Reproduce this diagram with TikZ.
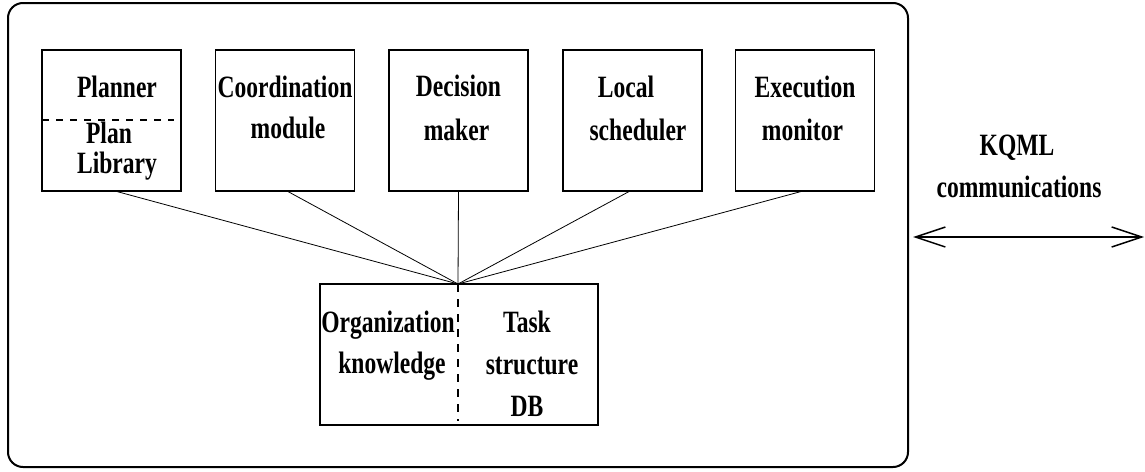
\documentclass[tikz,border=0pt]{standalone}
\usepackage{fontspec}
\newfontfamily\lblfont[FakeStretch=0.76]{Liberation Serif}
\usetikzlibrary{arrows.meta,calc}
\tikzset{
  module/.style={draw, line width=1.7pt, inner sep=0pt, outer sep=0pt,
                 minimum width=139pt, minimum height=141pt},
  lbl/.style={anchor=base, inner sep=0pt, font=\lblfont\bfseries\fontsize{31}{36}\selectfont},
  link/.style={line width=0.8pt},
  divider/.style={line width=1.6pt, dash pattern=on 7pt off 7pt},
  comm/.style={line width=1.5pt, {Straight Barb[length=30pt,width=20pt]}-{Straight Barb[length=30pt,width=20pt]}}
}
\begin{document}
\begin{tikzpicture}[x=1pt, y=-1pt]
\useasboundingbox (0,0) rectangle (1145,471);

% agent boundary
\draw[line width=2pt, rounded corners=15pt] (8,3) rectangle (908,467);

% functional modules
\node[module] (planner) at (111.5,120.5) {};
\node[module] (coord)   at (285,120.5) {};
\node[module] (decide)  at (458.5,120.5) {};
\node[module] (sched)   at (632.5,120.5) {};
\node[module] (exec)    at (805,120.5) {};

% shared knowledge base
\node[module, minimum width=278pt] (kb) at (459,354.5) {};
\coordinate (hub) at (458,284);

% internal separators
\draw[divider] (planner.west |- 0,120) -- ($(planner.east |- 0,120)+(-7,0)$);
\draw[divider, line width=1.4pt, dash pattern=on 8pt off 7pt] (hub) -- (458,421);

% module labels
\node[lbl] (tPlanner) at (117,97)  {Planner};
\node[lbl] (tPlan)    at (109,143) {Plan};
\node[lbl] (tLib)     at (117,173) {Library};
\node[lbl] (tCoord)   at (285,97)  {Coordination};
\node[lbl] (tModule)  at (288,138) {module};
\node[lbl] (tDec)     at (458.5,96) {Decision};
\node[lbl] (tMaker)   at (456.5,140) {maker};
\node[lbl] (tLocal)   at (626,97)  {Local};
\node[lbl] (tSched)   at (638,140) {scheduler};
\node[lbl] (tExec)    at (805,97)  {Execution};
\node[lbl] (tMon)     at (802.5,140) {monitor};
\node[lbl] (tOrg)     at (388,332) {Organization};
\node[lbl] (tKnow)    at (392,373) {knowledge};
\node[lbl] (tTask)    at (527,332) {Task};
\node[lbl] (tStruct)  at (532,374) {structure};
\node[lbl] (tDB)      at (527,416) {DB};

% module-to-knowledge connections
\draw[link] (planner.south) ++(3.5,0) -- (hub);
\draw[link] (coord.south) ++(2,0) -- (hub);
\draw[link] (decide.south) -- (hub);
\draw[link] (sched.south) ++(-2.5,0) -- (hub);
\draw[link] (exec.south) ++(-2,0) -- (hub);

% external communication
\node[lbl] (tKqml) at (1017,155) {KQML};
\node[lbl] (tComm) at (1019,197) {communications};
\coordinate (commL) at (913,237);
\coordinate (commR) at (1144,237);
\draw[comm] (commL) -- (commR);
\end{tikzpicture}
\end{document}
